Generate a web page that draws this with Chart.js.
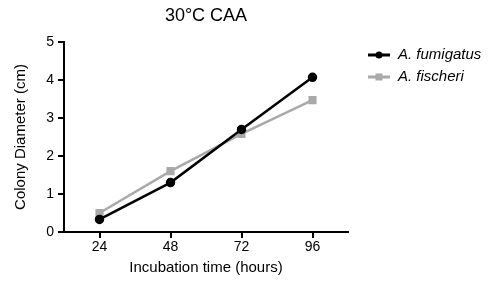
<!DOCTYPE html>
<html>
<head>
<meta charset="utf-8">
<script src="https://cdn.jsdelivr.net/npm/chart.js@4"></script>
<style>
html,body{margin:0;padding:0;background:#fff;}
#wrap{width:489px;height:282px;position:relative;}
</style>
</head>
<body>
<div id="wrap"><canvas id="c" width="489" height="282"></canvas></div>
<script>
const hours = [24, 48, 72, 96];
const fumigatus = [0.33, 1.3, 2.7, 4.07];
const fischeri = [0.5, 1.6, 2.58, 3.47];
const seriesNames = ['A. fumigatus', 'A. fischeri'];
const xTicks = [24, 48, 72, 96];
const yTicks = [0, 1, 2, 3, 4, 5];
const titleText = '30°C CAA';
const xTitle = 'Incubation time (hours)';
const yTitle = 'Colony Diameter (cm)';

const FONT = "'Liberation Sans', Arial, sans-serif";

const titleAndLegend = {
  id: 'titleAndLegend',
  afterDraw(chart) {
    const ctx = chart.ctx;
    const ca = chart.chartArea;
    ctx.save();
    ctx.fillStyle = '#000';
    ctx.font = "18px " + FONT;
    ctx.textAlign = 'center';
    ctx.textBaseline = 'middle';
    ctx.fillText(titleText, (ca.left + ca.right) / 2, 16);
    ctx.restore();

    const x0 = 368, x1 = 390, tx = 398;
    const ys = [55, 77];
    chart.data.datasets.forEach((ds, i) => {
      const y = ys[i];
      ctx.save();
      ctx.strokeStyle = ds.borderColor;
      ctx.lineWidth = 3;
      ctx.beginPath(); ctx.moveTo(x0, y); ctx.lineTo(x1, y); ctx.stroke();
      ctx.fillStyle = ds.pointBackgroundColor;
      const cx = (x0 + x1) / 2;
      if (ds.pointStyle === 'rect') {
        ctx.fillRect(cx - 3.5, y - 3.5, 7, 7);
      } else {
        ctx.beginPath(); ctx.arc(cx, y, 3.5, 0, Math.PI * 2); ctx.fill();
      }
      ctx.fillStyle = '#000';
      ctx.font = "italic 15px " + FONT;
      ctx.textBaseline = 'middle';
      ctx.textAlign = 'left';
      ctx.fillText(ds.label, tx, y);
      ctx.restore();
    });
  }
};

new Chart(document.getElementById('c'), {
  type: 'line',
  data: {
    datasets: [
      {
        label: seriesNames[0],
        data: hours.map((h, i) => ({x: h, y: fumigatus[i]})),
        borderColor: '#000000',
        backgroundColor: '#000000',
        pointBackgroundColor: '#000000',
        pointBorderColor: '#000000',
        pointStyle: 'circle',
        pointRadius: 3.5,
        borderWidth: 2.5,
        tension: 0,
        order: 1
      },
      {
        label: seriesNames[1],
        data: hours.map((h, i) => ({x: h, y: fischeri[i]})),
        borderColor: '#a9a9a9',
        backgroundColor: '#a9a9a9',
        pointBackgroundColor: '#a9a9a9',
        pointBorderColor: '#a9a9a9',
        pointStyle: 'rect',
        pointRadius: 4,
        borderWidth: 2.5,
        tension: 0,
        order: 2
      }
    ]
  },
  options: {
    responsive: false,
    animation: false,
    devicePixelRatio: 1,
    layout: { padding: { left: 0, right: 141, top: 42, bottom: 0 } },
    plugins: {
      legend: { display: false },
      tooltip: { enabled: false },
      title: { display: false }
    },
    scales: {
      x: {
        type: 'linear',
        min: 12,
        max: 108,
        afterBuildTicks(scale) { scale.ticks = xTicks.map(v => ({value: v})); },
        afterFit(scale) { scale.height = 50; },
        border: { display: true, color: '#000', width: 2 },
        grid: { display: true, drawOnChartArea: false, drawTicks: true, tickLength: 6, color: '#000', lineWidth: 2 },
        ticks: { color: '#000', font: { family: FONT, size: 14 }, padding: 1, maxRotation: 0 },
        title: { display: true, text: xTitle, color: '#000', font: { family: FONT, size: 15 }, padding: { top: 0, bottom: 5 } }
      },
      y: {
        type: 'linear',
        min: 0,
        max: 5,
        afterBuildTicks(scale) { scale.ticks = yTicks.map(v => ({value: v})); },
        afterFit(scale) { scale.width = 64; },
        border: { display: true, color: '#000', width: 2 },
        grid: { display: true, drawOnChartArea: false, drawTicks: true, tickLength: 6, color: '#000', lineWidth: 2 },
        ticks: { color: '#000', font: { family: FONT, size: 14 }, padding: 4 },
        title: { display: true, text: yTitle, color: '#000', font: { family: FONT, size: 15 }, padding: { top: 12, bottom: 4 } }
      }
    }
  },
  plugins: [titleAndLegend]
});
</script>
</body>
</html>
